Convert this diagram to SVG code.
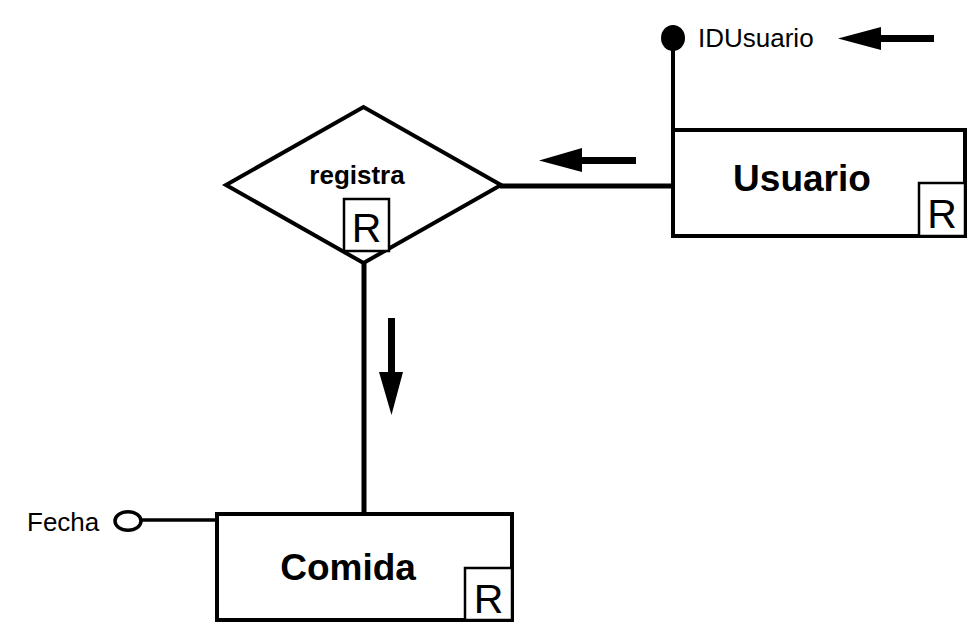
<svg xmlns="http://www.w3.org/2000/svg" width="979" height="638" viewBox="0 0 979 638">
<style>
.box{fill:#fff;stroke:#000;stroke-width:4}
.rbox{fill:#fff;stroke:#000;stroke-width:2.5}
.lbl{font-family:"Liberation Sans",Arial,sans-serif;font-weight:bold;fill:#000}
.r{font-family:"Liberation Sans",Arial,sans-serif;font-size:41px;fill:#000}
.att{font-family:"Liberation Sans",Arial,sans-serif;font-size:26px;fill:#000}
.ln{stroke:#000;fill:none}
</style>
<rect width="979" height="638" fill="#fff"/>
<g id="connectors">
<line class="ln" x1="673" y1="45" x2="673" y2="131" stroke-width="4"/>
<line class="ln" x1="500" y1="186" x2="672" y2="186" stroke-width="5"/>
<line class="ln" x1="364" y1="262" x2="364" y2="513" stroke-width="5"/>
<line class="ln" x1="141" y1="520" x2="217" y2="520" stroke-width="3.5"/>
<g id="arrow-top">
<rect x="879" y="35" width="55" height="7" fill="#000"/>
<polygon points="838,38.5 881,27 881,50" fill="#000"/>
</g>
<g id="arrow-mid">
<rect x="580" y="157" width="56" height="7" fill="#000"/>
<polygon points="539,160.5 582,148 582,172" fill="#000"/>
</g>
<g id="arrow-down">
<rect x="388" y="318" width="7" height="56" fill="#000"/>
<polygon points="379,372 403,372 391.5,415" fill="#000"/>
</g>
</g>
<g id="attr-IDUsuario">
<ellipse cx="673" cy="38" rx="12" ry="13" fill="#000"/>
<text class="att" x="698" y="47">IDUsuario</text>
</g>
<g id="attr-Fecha">
<ellipse cx="128" cy="521" rx="13" ry="9.3" fill="#fff" stroke="#000" stroke-width="3.5"/>
<text class="att" x="27" y="531">Fecha</text>
</g>
<g id="node-registra">
<polygon class="box" points="226,185 363.5,107 501,185 363.5,263"/>
<text class="lbl" x="357" y="184" font-size="26" text-anchor="middle">registra</text>
<rect class="rbox" x="344" y="199" width="45" height="52"/>
<text class="r" x="366.5" y="242" text-anchor="middle">R</text>
</g>
<g id="node-Usuario">
<rect class="box" x="673" y="130" width="292" height="106"/>
<text class="lbl" x="802" y="191" font-size="37" text-anchor="middle">Usuario</text>
<rect class="rbox" x="919" y="183" width="46" height="53"/>
<text class="r" x="942" y="228" text-anchor="middle">R</text>
</g>
<g id="node-Comida">
<rect class="box" x="217" y="514" width="295" height="106"/>
<text class="lbl" x="348" y="580" font-size="37" text-anchor="middle">Comida</text>
<rect class="rbox" x="465" y="568" width="47" height="52"/>
<text class="r" x="488.5" y="613" text-anchor="middle">R</text>
</g>
</svg>
